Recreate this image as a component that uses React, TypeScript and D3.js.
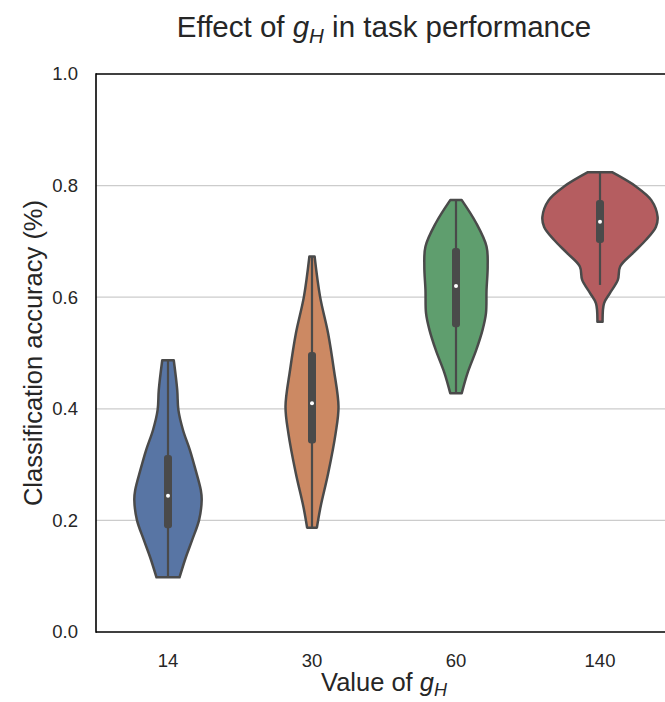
import * as d3 from 'd3';

// categories on the x axis
const categories = ['14', '30', '60', '140'];
const yTicks = [0, 0.2, 0.4, 0.6, 0.8, 1.0];
const gridTicks = [0.2, 0.4, 0.6, 0.8];

// violin outlines: [accuracy, relative density]
const violin14: [number, number][] = [
  [0.487, 0.10], [0.434, 0.16], [0.398, 0.18], [0.362, 0.26], [0.326, 0.38], [0.290, 0.48],
  [0.254, 0.57], [0.237, 0.585], [0.201, 0.54], [0.165, 0.42], [0.134, 0.31], [0.098, 0.20],
];
const violin30: [number, number][] = [
  [0.673, 0.045], [0.601, 0.14], [0.535, 0.28], [0.470, 0.38], [0.404, 0.46], [0.356, 0.41],
  [0.284, 0.28], [0.225, 0.15], [0.187, 0.085],
];
const violin60: [number, number][] = [
  [0.774, 0.10], [0.733, 0.35], [0.691, 0.53], [0.655, 0.55], [0.613, 0.53], [0.571, 0.52],
  [0.541, 0.46], [0.505, 0.35], [0.464, 0.20], [0.428, 0.10],
];
const violin140: [number, number][] = [
  [0.824, 0.21], [0.798, 0.63], [0.774, 0.89], [0.744, 1.0], [0.726, 0.97], [0.703, 0.80],
  [0.679, 0.57], [0.655, 0.35], [0.631, 0.31], [0.607, 0.17], [0.589, 0.07], [0.556, 0.045],
];
const violins = [violin14, violin30, violin60, violin140];

// inner box summaries
const q1 = [0.186, 0.338, 0.546, 0.697];
const medians = [0.244, 0.410, 0.620, 0.735];
const q3 = [0.317, 0.502, 0.688, 0.774];
const whiskerLow = [0.098, 0.187, 0.428, 0.622];
const whiskerHigh = [0.487, 0.673, 0.774, 0.824];

const colors = ['#5875A4', '#CC8963', '#5F9E6E', '#B55D60'];
const lineColor = '#4a4a4a';
const textColor = '#262626';
const font = '"Liberation Sans", Arial, sans-serif';

const W = 665;
const H = 702;
const margin = { top: 74, left: 96, bottom: 70 };
const plotRight = 672; // axes run slightly past the figure edge

export default function App() {
  const x = d3.scaleBand<string>().domain(categories).range([margin.left, plotRight]).padding(0);
  const y = d3.scaleLinear().domain([0, 1]).range([H - margin.bottom, margin.top]);
  const halfWidth = d3.scaleLinear().domain([0, 1]).range([0, x.bandwidth() * 0.4]);

  const boxW = 8;

  return (
    <svg
      width={W}
      height={H}
      style={{ position: 'absolute', left: 0, top: 0, background: 'white', fontFamily: font }}
    >
      <text x={(margin.left + plotRight) / 2} y={37} textAnchor="middle" fontSize={29.5} fill={textColor}>
        Effect of <tspan fontStyle="italic">g</tspan>
        <tspan fontStyle="italic" fontSize={20.5} dy={6}>H</tspan>
        <tspan dy={-6}> in task performance</tspan>
      </text>

      {/* grid */}
      {gridTicks.map(t => (
        <line key={t} x1={margin.left} x2={W} y1={y(t)} y2={y(t)} stroke="#cccccc" strokeWidth={1.3} />
      ))}

      {/* violins */}
      {violins.map((pts, i) => {
        const cx = (x(categories[i]) ?? 0) + x.bandwidth() / 2;
        const area = d3.area<[number, number]>()
          .y(d => y(d[0]))
          .x0(d => cx - halfWidth(d[1]))
          .x1(d => cx + halfWidth(d[1]))
          .curve(d3.curveCatmullRom.alpha(0.5));
        return (
          <g key={categories[i]}>
            <path d={area(pts) ?? ''} fill={colors[i]} stroke={lineColor} strokeWidth={2.5} strokeLinejoin="round" />
            <line x1={cx} x2={cx} y1={y(whiskerLow[i])} y2={y(whiskerHigh[i])} stroke={lineColor} strokeWidth={2.2} />
            <rect
              x={cx - boxW / 2}
              y={y(q3[i])}
              width={boxW}
              height={y(q1[i]) - y(q3[i])}
              rx={3}
              fill={lineColor}
            />
            <circle cx={cx} cy={y(medians[i])} r={2} fill="white" />
          </g>
        );
      })}

      {/* spines */}
      <line x1={margin.left} x2={margin.left} y1={y(1) - 0.75} y2={y(0) + 0.75} stroke="black" strokeWidth={1.6} />
      <line x1={margin.left} x2={W} y1={y(0)} y2={y(0)} stroke="black" strokeWidth={1.6} />
      <line x1={margin.left} x2={W} y1={y(1)} y2={y(1)} stroke="black" strokeWidth={1.6} />

      {/* y tick labels */}
      {yTicks.map(t => (
        <text key={t} x={78} y={y(t)} dy="0.35em" textAnchor="end" fontSize={18.5} fill={textColor}>
          {d3.format('.1f')(t)}
        </text>
      ))}

      {/* x tick labels */}
      {categories.map(c => (
        <text key={c} x={(x(c) ?? 0) + x.bandwidth() / 2} y={667} textAnchor="middle" fontSize={18.5} fill={textColor}>
          {c}
        </text>
      ))}

      {/* axis labels */}
      <text x={(margin.left + plotRight) / 2} y={691} textAnchor="middle" fontSize={25.5} fill={textColor}>
        Value of <tspan fontStyle="italic">g</tspan>
        <tspan fontStyle="italic" fontSize={18} dy={5}>H</tspan>
      </text>
      <text
        transform={`translate(42, ${(y(0) + y(1)) / 2}) rotate(-90)`}
        textAnchor="middle"
        fontSize={25.5}
        fill={textColor}
      >
        Classification accuracy (%)
      </text>
    </svg>
  );
}
